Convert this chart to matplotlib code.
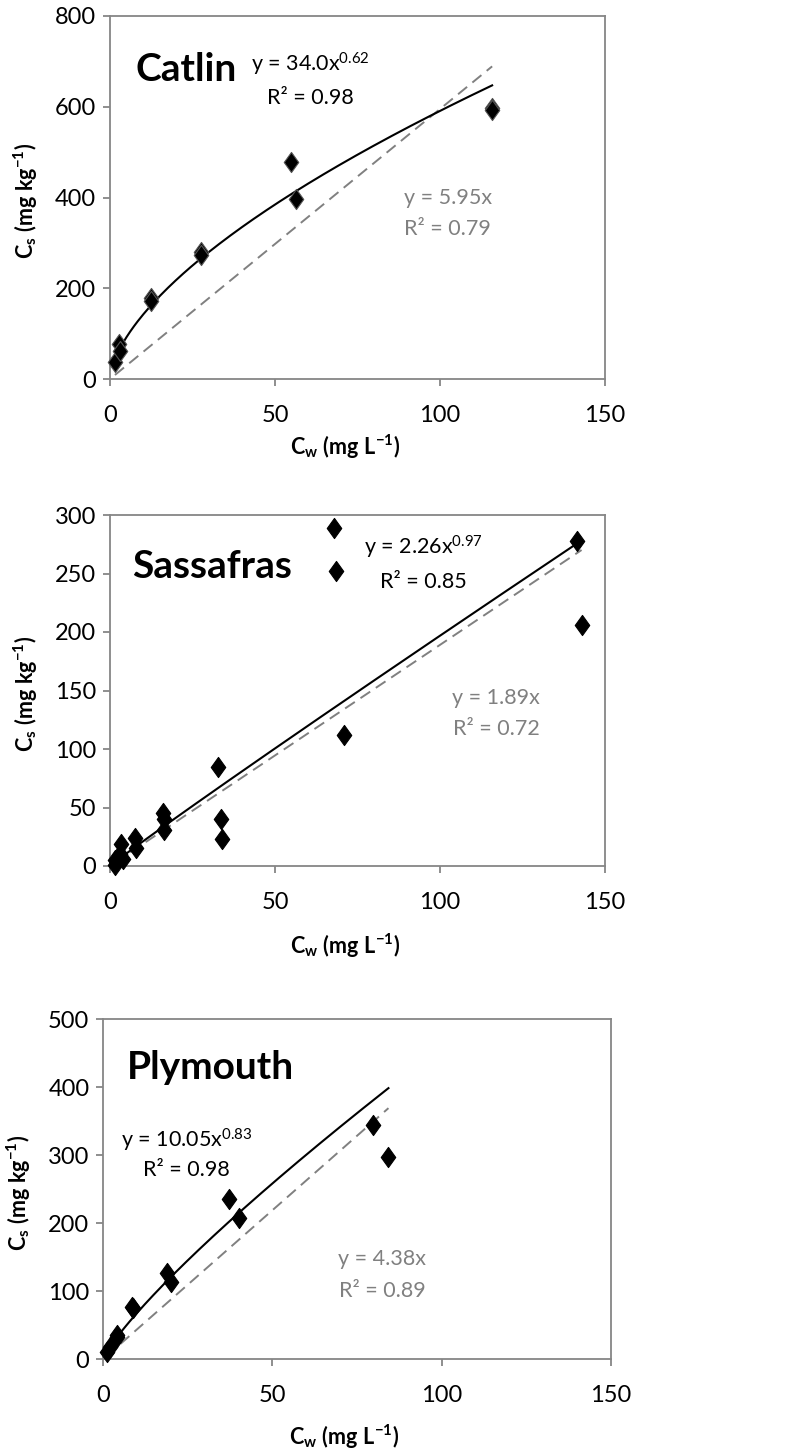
import numpy as np
import matplotlib
matplotlib.use("Agg")
import matplotlib.pyplot as plt
from matplotlib.path import Path

plt.rcParams["font.family"] = ["Lato", "DejaVu Sans"]
plt.rcParams["mathtext.fontset"] = "custom"
plt.rcParams["mathtext.rm"] = "Lato"
plt.rcParams["mathtext.it"] = "Lato:italic"
plt.rcParams["mathtext.bf"] = "Lato:bold"

# Catlin
catlin_cw = [1.5, 2.8, 3.1, 12.3, 12.5, 27.5, 27.6, 54.8, 56.3, 115.7, 115.8]
catlin_cs = [38, 78, 62, 179, 172, 280, 273, 479, 396, 598, 592]
# Sassafras
sass_cw = [1.5, 1.6, 3.0, 3.2, 3.8, 7.6, 7.9, 16.2, 16.3, 16.5, 32.8, 33.5, 34.0,
           67.9, 68.4, 70.9, 141.6, 142.9]
sass_cs = [5, 1, 10, 19, 6, 24, 15, 45, 40, 31, 85, 40, 23,
           289, 252, 112, 278, 206]
# Plymouth
plym_cw = [1.0, 2.0, 4.0, 4.1, 8.6, 8.8, 18.8, 19.9, 37.3, 40.1, 79.6, 84.3]
plym_cs = [11, 18, 35, 33, 77, 75, 126, 114, 235, 207, 345, 298]

panels = [
    dict(name="Catlin", cw=catlin_cw, cs=catlin_cs, a=34.0, b=0.62, k=5.95,
         pow_txt=("y = 34.0x$^{0.62}$", "R² = 0.98"), lin_txt=("y = 5.95x", "R² = 0.79"),
         ymax=800, ystep=200, rect=(110, 16, 605, 379),
         name_xy=(7.6, 683), pow_xy=(60.6, 694, 620), lin_xy=(102.4, 400, 331),
         xlab_off=68, edge="#555555"),
    dict(name="Sassafras", cw=sass_cw, cs=sass_cs, a=2.26, b=0.97, k=1.89,
         pow_txt=("y = 2.26x$^{0.97}$", "R² = 0.85"), lin_txt=("y = 1.89x", "R² = 0.72"),
         ymax=300, ystep=50, rect=(110, 515, 605, 866),
         name_xy=(6.6, 256), pow_xy=(94.9, 272, 243), lin_xy=(117, 143.6, 117),
         xlab_off=80, edge="black"),
    dict(name="Plymouth", cw=plym_cw, cs=plym_cs, a=10.05, b=0.83, k=4.38,
         pow_txt=("y = 10.05x$^{0.83}$", "R² = 0.98"), lin_txt=("y = 4.38x", "R² = 0.89"),
         ymax=500, ystep=100, rect=(103.3, 1019.3, 610.7, 1359),
         name_xy=(6.9, 429), pow_xy=(24.7, 322, 278), lin_xy=(82.4, 146.6, 100),
         xlab_off=78, edge="black"),
]

diamond = Path([(0, 1), (0.72, 0), (0, -1), (-0.72, 0), (0, 1)],
               [Path.MOVETO, Path.LINETO, Path.LINETO, Path.LINETO, Path.CLOSEPOLY])

W, H = 791, 1451
fig = plt.figure(figsize=(W / 100, H / 100), dpi=100)
spine_c = "#868686"
gray_txt = "#808080"

for p in panels:
    l, t, r, b = p["rect"]
    ax = fig.add_axes([l / W, 1 - b / H, (r - l) / W, (b - t) / H])
    w_px, h_px = r - l, b - t
    cw = np.array(p["cw"], dtype=float)
    cs = np.array(p["cs"], dtype=float)
    xs = np.linspace(cw.min(), cw.max(), 200)
    ax.plot(xs, p["k"] * xs, ls=(0, (6, 3.5)), color="#808080", lw=1.4, zorder=2)
    ax.plot(xs, p["a"] * xs ** p["b"], color="black", lw=1.5, zorder=3)
    ax.plot(cw, cs, ls="none", marker=diamond, ms=14.5, mfc="black",
            mec=p["edge"], mew=0.8, zorder=4, clip_on=False)

    ax.set_xlim(0, 150)
    ax.set_ylim(0, p["ymax"])
    ax.set_xticks([0, 50, 100, 150])
    ax.set_yticks(np.arange(0, p["ymax"] + 1, p["ystep"]))
    for s in ax.spines.values():
        s.set_color(spine_c)
        s.set_linewidth(1.3)
    ax.tick_params(direction="out", length=5, width=1.3, color=spine_c,
                   labelsize=17, labelcolor="black")
    ax.tick_params(axis="x", pad=14)
    ax.tick_params(axis="y", pad=5)

    ax.set_xlabel(r"$\mathbf{C_w\ (mg\ L^{-1})}$", fontsize=15.5, va="center")
    ax.xaxis.set_label_coords(0.475, -p["xlab_off"] / h_px)
    ax.set_ylabel(r"$\mathbf{C_s\ (mg\ kg^{-1})}$", fontsize=15.5, va="center")
    ax.yaxis.set_label_coords(-84 / w_px, 0.49)

    ax.text(*p["name_xy"], p["name"], fontsize=28, fontweight="bold",
            ha="left", va="center")
    px, py1, py2 = p["pow_xy"]
    ax.text(px, py1, p["pow_txt"][0], fontsize=15.5, ha="center", va="center")
    ax.text(px, py2, p["pow_txt"][1], fontsize=15.5, ha="center", va="center")
    lx, ly1, ly2 = p["lin_xy"]
    ax.text(lx, ly1, p["lin_txt"][0], fontsize=15.5, ha="center", va="center", color=gray_txt)
    ax.text(lx, ly2, p["lin_txt"][1], fontsize=15.5, ha="center", va="center", color=gray_txt)

fig.savefig("out.png", dpi=100)
